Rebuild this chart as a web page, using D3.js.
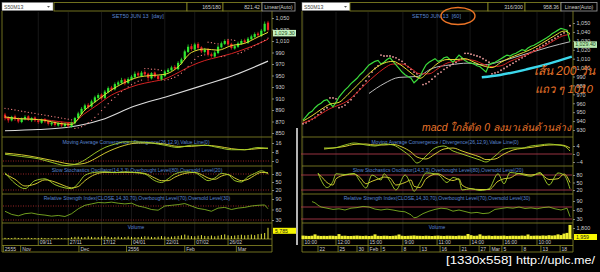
<!DOCTYPE html>
<html>
<head>
<meta charset="utf-8">
<script src="https://cdn.jsdelivr.net/npm/d3@7/dist/d3.min.js"></script>
<style>
  body { margin: 0; background: #000; }
  svg { display: block; }
  text { font-family: "Liberation Sans", Arial, sans-serif; white-space: pre; }
</style>
</head>
<body>
<svg id="chart" width="600" height="272"></svg>
<script>
// ---------- daily chart (left) ----------
var opens  = [882,877,872,879,875,869,874,879,872,877, 872,868,874,871,865,869,863,868,862,867,
              861,867,876,883,891,899,896,904,911,917, 911,921,929,926,934,937,943,937,943,947,
              954,949,956,953,945,955,949,943,949,956, 959,965,961,971,979,991,1001,995,1005,999,
              991,996,987,983,989,999,1005,1011,1005,997, 1000,1005,1011,1007,1013,1017,1023,1019,1027,1042];
var highs  = [885,879,880,882,877,877,881,881,878,879, 874,875,876,872,870,871,869,870,868,868,
              870,878,887,895,901,902,908,915,919,919, 925,931,932,938,941,946,945,947,951,957,
              957,958,959,955,956,957,951,952,960,963, 967,968,975,981,995,1004,1005,1007,1008,1001,
              998,998,990,993,1003,1009,1013,1013,1007,1004, 1009,1013,1014,1017,1021,1025,1026,1031,1044,1045];
var lows   = [872,868,870,871,867,867,872,871,869,869, 866,866,867,863,862,861,861,860,859,859,
              859,865,874,881,889,892,894,902,908,907, 909,919,922,924,931,935,933,935,941,945,
              947,947,949,940,943,946,941,941,947,954, 957,959,959,969,977,989,993,993,995,989,
              988,983,981,981,987,997,1003,1001,995,995, 998,1003,1005,1005,1011,1015,1017,1017,1025,1026];
var closes = [876,872,878,874,870,875,878,873,876,872, 869,873,870,866,868,864,867,863,866,862,
              868,876,884,892,898,895,905,912,916,910, 922,928,925,935,938,942,936,944,948,953,
              950,955,952,946,954,948,944,950,957,960, 964,962,972,978,992,1000,996,1004,998,992,
              995,986,984,990,1000,1006,1010,1004,998,1001, 1006,1010,1008,1014,1018,1022,1020,1028,1040,1029.3];
var volumes = [600,500,450,700,550,400,500,650,480,520, 450,600,500,420,380,450,520,480,400,500,
               900,1100,1200,950,1000,1300,1100,900,1000,1250, 1400,1100,900,1000,1200,950,1050,1300,1100,900,
               1000,1150,1400,1250,1100,1000,1200,1500,1300,1100, 1250,1400,1600,1900,2300,1800,1500,1400,1700,2000,
               1600,1500,1800,1400,1700,2100,2400,1900,1600,1800, 2000,2200,1900,2100,2300,2000,2500,2700,3100,5785];
var sarDay = [893,892,891,890,889,888,887,886,885,884, 883,882,881,880,879,878,877,876,875,874,
              873,858,859,861,864,868,872,877,883,889, 895,901,907,912,917,922,926,930,934,937,
              940,942,962,962,961,961,960,959,942,943, 945,947,950,954,960,966,972,978,983,985,
              986,1008,1007,1006,1005,983,984,1013,1012,1011, 988,990,993,996,999,1002,1005,1008,1011,1015];
// moving averages read every 4th bar (plus the last)
var maFastDay = [878,875,874,872,867,865,890,908,925,938,947,950,952,965,990,996,994,1002,1006,1017,1025];
var maSlowDay = [876,875,874,873,870,868,884,900,916,926,934,939,944,955,967,976,982,988,996,1005,1013];
var maLongDayIdx = [0,10,19,29,39,49,59,69,79];
var maLongDay    = [854,856,860,873,897,914,932,951,975];
var macdDayIdx = [0,5,10,15,18,21,24,27,30,33,36,40,44,48,52,56,60,64,68,72,76,79];
var macdDay    = [6,4,2,-2,-4,-3,1,7,12,15,17,17,16,14,12,14,14,12,10,10,12,11];
var signalDay  = [7,5.5,3,0,-2,-3,-2,2,7,11,14,16,16,15,13,13,14,13,11,10,11,11.5];
var stochDayIdx = [0,3,6,9,12,15,18,20,22,24,27,30,33,36,39,42,45,47,49,51,54,57,59,61,63,65,67,69,71,73,75,77,79];
var stochKDay   = [85,45,25,55,62,40,28,25,45,75,86,88,85,88,85,80,55,48,62,80,88,85,70,55,65,82,78,55,50,70,82,92,80];
var stochDDay   = [80,60,35,42,58,50,35,28,33,55,78,86,86,86,86,82,65,55,55,68,82,86,78,65,60,72,78,65,55,60,75,86,85];
var rsiDay = [55,46,42,48,50,46,44,41,43,40, 48,62,72,76,80,79,81,78,76,78,
              70,66,60,58,70,72,74,77,70,63, 60,55,64,66,60,64,66,70,72,73, 62];
var dayTopIdx = [10,19,29,38,48,57,67];
var dayTop    = ["09/11","27/11","17/12","04/01","22/01","07/02","26/02"];
var dayBotIdx = [-0.5,4.7,22.2,36.5,54,69.5];
var dayBot    = ["2555","Nov","Dec","2556","Feb","Mar"];

// ---------- 60 minute chart (right) ----------
var closesH = [941,945,949,951,955,958,960,963,964,960, 956,961,967,971,975,978,982,985,988,992,
               995,999,1003,1005,1007,1008,1004,1006,1009,1011, 1007,1003,999,995,992,990,988,983,986,990,
               997,1003,1006,1008,1010,1007,1008,1011,1012,1009, 1006,1010,1014,1011,1008,1006,1005,1004,1002,1001,
               998,995,1003,1005,1006,1008,1010,1012,1014,1013, 1015,1016,1018,1020,1019,1022,1024,1025,1027,1029,
               1031,1033,1035,1038,1040,1042,1044,1043,1042,1029.4];
var sarH = [937,938,940,942,944,947,950,953,955,966, 966,965,955,956,958,961,964,968,972,976,
            980,985,990,995,999,1002,1014,1013,1013,1013, 1012,1011,1009,1007,1004,1001,998,995,993,991,
            981,982,984,987,990,993,995,998,1000,1002, 1004,1006,1008,1010,1016,1016,1015,1014,1013,1012,
            1010,1008,1006,993,994,995,997,999,1001,1003, 1005,1007,1009,1011,1013,1015,1017,1019,1021,1023,
            1025,1027,1029,1031,1033,1035,1037,1039,1041,1047];
// moving averages read every 3rd bar (plus the last)
var maFastH = [940,946,953,959,961,970,980,990,999,1005,1007,1002,994,988,996,1005,1009,1009,1010,1006,
               1002,1000,1006,1011,1015,1019,1024,1030,1036,1041,1038];
var maSlowH = [938,942,948,954,958,963,972,982,991,999,1004,1004,999,993,993,999,1005,1007,1009,1008,
               1004,1001,1002,1007,1011,1015,1020,1025,1031,1036,1037];
var maLongHIdx = [22,27,32,38,43,49,55,60,66,71,77,82,89];
var maLongH    = [971,982,989,990,999,1003,1005,1003,1007,1012,1018,1023,1029];
var volumesH = [560,520,500,540,760,540,500,520,500,540, 530,500,800,520,540,500,500,530,560,520,
                500,540,490,530,760,520,500,540,530,490, 520,560,740,530,500,520,540,580,530,520,
                500,540,520,490,530,560,520,500,540,530, 520,500,560,530,540,820,620,520,540,760,
                530,520,560,500,540,520,530,560,500,520, 540,530,520,560,530,740,520,540,560,530,
                580,540,620,560,600,760,640,880,1000,2300];
var macdHIdx = [7,10,14,17,21,24,27,30,33,36,38,41,44,47,50,53,56,59,61,64,67,70,73,76,79,82,85,87,89];
var macdH    = [3,3,4.5,5.5,4.5,4,5,4.5,2,-1.5,-4.5,-1,3,4,1.5,0,-1.5,-3,-4,-1,2.5,3,3,4,4.5,5,4.5,4,1.5];
var signalH  = [2.5,3,3.8,4.8,5,4.5,4.5,4.8,3.5,1,-1.5,-2.5,0,2.5,3,1.5,0,-1.5,-2.8,-2.5,0,2,2.8,3.3,4,4.5,4.6,4.3,3];
var stochHIdx = [5,6,8,10,11,14,17,19,21,23,26,27,29,31,34,36,37,39,41,45,48,50,52,53,56,59,62,65,67,69,72,76,79,82,85,87,89];
var stochKH   = [88,60,30,55,85,82,86,55,28,80,60,85,55,20,80,40,15,50,88,82,50,70,60,20,25,18,25,85,45,90,85,75,90,40,88,80,25];
var stochDH   = [85,75,50,40,65,80,84,70,45,55,68,72,68,40,50,60,35,30,65,85,65,58,65,40,25,22,22,55,65,68,86,80,85,62,65,84,50];
var rsiHIdx = [3,4,5,6,8,10,12,14,16,18,20,22,24,26,28,30,32,34,36,37,38,40,42,44,46,48,50,52,54,56,58,60,62,64,66,68,70,72,74,76,78,80,82,84,86,88,89];
var rsiH    = [88,84,76,70,66,62,64,60,66,68,72,70,63,60,63,60,56,54,44,34,36,48,56,62,66,64,56,60,55,50,52,48,50,62,65,68,66,70,65,67,64,68,70,64,60,66,38];
var hourTopIdx = [0,11,21.7,33.3,44.7,55.7,66.7,78];
var hourTop    = ["10:00","12:00","15:00","9:00","11:00","14:00","16:00","10:00"];
var hourBotIdx = [5,11.7,18,21.7,26,33,39,45.7,52.3,58.7,62.3,66.3,73,79.3,85.7];
var hourBot    = ["22","25","30","Feb","5","8","13","16","21","27","Mar","5","8","13","18"];
// hand drawn annotation (200 bar line)
var cyanIdx = [59.6,65.7,74.6,82.3,89.6];
var cyanVal = [989.1,991.7,998.1,1004.8,1012.2];

var svg = d3.select("#chart");
var FRAME = "#8c8c26", LABEL = "#cdcdcd", BLUE = "#5a86d0";
var UP = "#2fe82f", DOWN = "#f02424", YEL = "#e6dc34", GRN = "#a6d62a", RED = "#d42222";

svg.append("rect").attr("width", 600).attr("height", 272).attr("fill", "#000");

function pts(idx, vals) { return idx.map(function(d, i) { return [d, vals[i]]; }); }

function drawLine(x, y, data, color, w, curve) {
  svg.append("path").datum(data)
    .attr("fill", "none").attr("stroke", color).attr("stroke-width", w)
    .attr("d", d3.line().x(function(d) { return x(d[0]); }).y(function(d) { return y(d[1]); })
      .curve(curve || d3.curveLinear));
}

function label(x, y, s, size, color, anchor) {
  return svg.append("text").attr("x", x).attr("y", y).attr("font-size", size)
    .attr("fill", color).attr("text-anchor", anchor || "start").text(s);
}

function toolbar(x0, ddw, boxes) {
  svg.append("rect").attr("x", x0 + 2).attr("y", 2.5).attr("width", ddw).attr("height", 8)
    .attr("fill", "#fff").attr("stroke", "#888").attr("stroke-width", 0.5);
  label(x0 + 4, 8.6, "S50M13", 5.2, "#444");
  svg.append("path").attr("d", "M" + (x0 + ddw - 4) + ",6 l3,0 l-1.5,1.8z").attr("fill", "#555");
  boxes.forEach(function(b) {
    svg.append("rect").attr("x", b.x).attr("y", 2.5).attr("width", b.w).attr("height", 8.5)
      .attr("fill", "#000").attr("stroke", b.button ? "#a0a0a0" : FRAME).attr("stroke-width", 0.8);
    if (b.t) label(b.button ? b.x + b.w / 2 : b.x + b.w - 2, 8.8, b.t, 5.2, LABEL, b.button ? "middle" : "end");
  });
}

function yAxis(scale, x, ticks) {
  var ax = svg.append("g").attr("transform", "translate(" + x + ",0)")
    .call(d3.axisRight(scale).tickValues(ticks).tickSize(2).tickPadding(1.5).tickFormat(d3.format(",")));
  ax.select(".domain").remove();
  ax.selectAll("line").attr("stroke", LABEL).attr("stroke-width", 0.6);
  ax.selectAll("text").attr("fill", LABEL).attr("font-size", 5.5)
    .attr("font-family", '"Liberation Sans", Arial, sans-serif');
}

function frame(x0, axisX, x, topIdx, top, botIdx, bot) {
  // vertical grid
  topIdx.concat([x.domain()[1] - 2]).forEach(function(i) {
    svg.append("line").attr("x1", x(i)).attr("x2", x(i)).attr("y1", 12).attr("y2", 239)
      .attr("stroke", "#262626").attr("stroke-width", 0.6);
  });
  var g = svg.append("g").attr("stroke", FRAME).attr("stroke-width", 0.8);
  [137, 166, 194, 223, 239, 245.5, 252].forEach(function(y) {
    g.append("line").attr("x1", x0 + 2).attr("x2", axisX).attr("y1", y).attr("y2", y);
  });
  g.append("line").attr("x1", x0 + 2).attr("x2", x0 + 2).attr("y1", 11).attr("y2", 252);
  g.append("line").attr("x1", axisX).attr("x2", axisX).attr("y1", 11).attr("y2", 252);
  // date rows
  topIdx.forEach(function(i, k) {
    g.append("line").attr("x1", x(i)).attr("x2", x(i)).attr("y1", 239).attr("y2", 245.5);
    label(x(i) + 1.5, 244.3, top[k], 5, LABEL);
  });
  botIdx.forEach(function(i, k) {
    g.append("line").attr("x1", x(i)).attr("x2", x(i)).attr("y1", 245.5).attr("y2", 252);
    label(x(i) + 1.5, 250.8, bot[k], 5, LABEL);
  });
}

function levels(x, y, vals, dotted) {
  vals.forEach(function(v) {
    svg.append("line").attr("x1", x.range()[0] - 2).attr("x2", x.range()[1] + 2)
      .attr("y1", y(v)).attr("y2", y(v))
      .attr("stroke", dotted ? "#c03030" : "#a83848").attr("stroke-width", dotted ? 0.8 : 0.9)
      .attr("stroke-dasharray", dotted ? "1,1.5" : null);
  });
}

// ================= LEFT : daily =================
toolbar(0, 51, [{x: 54, w: 133}, {x: 187, w: 36, t: "165/180"}, {x: 223, w: 39, t: "821.42"},
                {x: 262, w: 33, t: "Linear(Auto)", button: true}]);
var xL = d3.scaleLinear().domain([0, closes.length - 1]).range([5, 268]);
var yL = d3.scaleLinear().domain([850, 1050]).range([133, 18]);
var macdL = d3.scaleLinear().domain([0, 16]).range([161, 143]);
var stochL = d3.scaleLinear().domain([20, 80]).range([190, 174]);
var rsiL = d3.scaleLinear().domain([30, 90]).range([220, 199]);
var volL = d3.scaleLinear().domain([0, 6200]).range([239, 227]);

frame(0, 272, xL, dayTopIdx, dayTop, dayBotIdx, dayBot);
svg.append("rect").attr("x", 296).attr("y", 128).attr("width", 2).attr("height", 117).attr("fill", "#b4b4b4");

label(112, 18, "SET50 JUN 13  [day]", 5.5, BLUE);

var dayIdx = d3.range(closes.length);
drawLine(xL, yL, pts(maLongDayIdx, maLongDay), "#dcdcdc", 1.1, d3.curveMonotoneX);
drawLine(xL, yL, pts(d3.range(0, 80, 4).concat([79]), maSlowDay), RED, 1, d3.curveMonotoneX);
svg.append("g").selectAll("circle").data(sarDay).enter().append("circle")
  .attr("cx", function(d, i) { return xL(i); }).attr("cy", function(d) { return yL(d); })
  .attr("r", 0.65).attr("fill", "#f07c7c");
// candles
var cg = svg.append("g");
cg.selectAll("line").data(dayIdx).enter().append("line")
  .attr("x1", function(i) { return xL(i); }).attr("x2", function(i) { return xL(i); })
  .attr("y1", function(i) { return yL(highs[i]); }).attr("y2", function(i) { return yL(lows[i]); })
  .attr("stroke", function(i) { return closes[i] >= opens[i] ? UP : DOWN; }).attr("stroke-width", 0.7);
cg.selectAll("rect").data(dayIdx).enter().append("rect")
  .attr("x", function(i) { return xL(i) - 1.1; }).attr("width", 2.2)
  .attr("y", function(i) { return yL(Math.max(opens[i], closes[i])); })
  .attr("height", function(i) { return Math.max(0.8, Math.abs(yL(opens[i]) - yL(closes[i]))); })
  .attr("fill", function(i) { return closes[i] >= opens[i] ? UP : DOWN; });
drawLine(xL, yL, pts(d3.range(0, 80, 4).concat([79]), maFastDay), YEL, 1, d3.curveMonotoneX);

yAxis(yL, 272, d3.range(850, 1051, 20));
var lastY = yL(closes[closes.length - 1]);
svg.append("rect").attr("x", 273).attr("y", lastY).attr("width", 23).attr("height", 6.5).attr("fill", "#c6f2c0");
label(284.5, lastY + 5, d3.format(",.2f")(closes[closes.length - 1]), 5.3, "#1e4a1e", "middle");

// MACD
levels(xL, macdL, [0], true);
label(136, 144, "Moving Average Convergence / Divergence(26,12,9),Value Line(0)", 5, BLUE, "middle");
drawLine(xL, macdL, pts(macdDayIdx, signalDay), YEL, 0.9, d3.curveMonotoneX);
drawLine(xL, macdL, pts(macdDayIdx, macdDay), GRN, 0.9, d3.curveMonotoneX);
yAxis(macdL, 272, [0, 8, 16]);
// Stochastics
levels(xL, stochL, [80, 20], true);
label(137, 172, "Slow Stochastics Oscillator(14,3,3),Overbought Level(80),Oversold Level(20)", 5, BLUE, "middle");
drawLine(xL, stochL, pts(stochDayIdx, stochDDay), YEL, 0.9, d3.curveMonotoneX);
drawLine(xL, stochL, pts(stochDayIdx, stochKDay), GRN, 0.9, d3.curveMonotoneX);
yAxis(stochL, 272, [20, 50, 80]);
// RSI
levels(xL, rsiL, [70, 30], true);
label(137, 200, "Relative Strength Index(CLOSE,14,30,70),Overbought Level(70),Oversold Level(30)", 5, BLUE, "middle");
drawLine(xL, rsiL, pts(d3.range(0, 80, 2).concat([79]), rsiDay), "#8cc426", 0.8);
yAxis(rsiL, 272, [30, 60, 90]);
// Volume
label(136, 229, "Volume", 5, BLUE, "middle");
svg.append("g").selectAll("rect").data(volumes).enter().append("rect")
  .attr("x", function(d, i) { return xL(i) - 0.5; }).attr("width", 1)
  .attr("y", function(d) { return volL(d); }).attr("height", function(d) { return 239 - volL(d); })
  .attr("fill", "#e6e63a");
svg.append("rect").attr("x", 273).attr("y", volL(volumes[79])).attr("width", 23).attr("height", 6).attr("fill", "#f8f800");
label(275, volL(volumes[79]) + 4.8, d3.format(",")(volumes[79]), 5.2, "#222");

// ================= RIGHT : 60 minute =================
toolbar(300, 48, [{x: 350, w: 138}, {x: 488, w: 37, t: "316/300"}, {x: 525, w: 36, t: "958.36"},
                  {x: 561, w: 36, t: "Linear(Auto)", button: true}]);
var xR = d3.scaleLinear().domain([0, closesH.length - 1]).range([303, 570]);
var yR = d3.scaleLinear().domain([930, 1050]).range([130, 23]);
var macdR = d3.scaleLinear().domain([-4, 4]).range([162, 146]);
var stochR = d3.scaleLinear().domain([20, 80]).range([190, 175]);
var rsiR = d3.scaleLinear().domain([30, 90]).range([219, 201]);
var volR = d3.scaleLinear().domain([0, 1800]).range([239, 228]);

frame(300, 573, xR, hourTopIdx, hourTop, hourBotIdx, hourBot);
label(412, 18, "SET50 JUN 13  [60]", 5.5, BLUE);

var hIdx = d3.range(closesH.length);
drawLine(xR, yR, pts(maLongHIdx, maLongH), "#bdbdbd", 1, d3.curveMonotoneX);
svg.append("g").selectAll("circle").data(sarH).enter().append("circle")
  .attr("cx", function(d, i) { return xR(i); }).attr("cy", function(d) { return yR(d); })
  .attr("r", 0.9).attr("fill", "#f2a0a0");
drawLine(xR, yR, pts(d3.range(0, 90, 3).concat([89]), maSlowH), RED, 1, d3.curveMonotoneX);
drawLine(xR, yR, pts(hIdx, closesH), "#3cdc3c", 1.2);
drawLine(xR, yR, pts(d3.range(0, 90, 3).concat([89]), maFastH), YEL, 1, d3.curveMonotoneX);

yAxis(yR, 573, d3.range(930, 1051, 10));
var lastH = yR(closesH[closesH.length - 1]);
svg.append("rect").attr("x", 574).attr("y", lastH).attr("width", 23).attr("height", 6.5).attr("fill", "#b8e8b0");
label(585.5, lastH + 5, d3.format(",.2f")(closesH[closesH.length - 1]), 5.3, "#1e4a1e", "middle");

// MACD
levels(xR, macdR, [0], false);
label(445, 144, "Moving Average Convergence / Divergence(26,12,9),Value Line(0)", 5, BLUE, "middle");
drawLine(xR, macdR, pts(macdHIdx, signalH), YEL, 0.9, d3.curveMonotoneX);
drawLine(xR, macdR, pts(macdHIdx, macdH), GRN, 0.9, d3.curveMonotoneX);
yAxis(macdR, 573, [-4, 0, 4]);
// Stochastics
levels(xR, stochR, [80, 20], false);
label(438, 172, "Slow Stochastics Oscillator(14,3,3),Overbought Level(80),Oversold Level(20)", 5, BLUE, "middle");
drawLine(xR, stochR, pts(stochHIdx, stochDH), YEL, 0.9, d3.curveMonotoneX);
drawLine(xR, stochR, pts(stochHIdx, stochKH), GRN, 0.9, d3.curveMonotoneX);
yAxis(stochR, 573, [20, 50, 80]);
// RSI
levels(xR, rsiR, [70, 30], false);
label(437, 200, "Relative Strength Index(CLOSE,14,30,70),Overbought Level(70),Oversold Level(30)", 5, BLUE, "middle");
drawLine(xR, rsiR, pts(rsiHIdx, rsiH), "#8cc426", 0.8);
yAxis(rsiR, 573, [30, 60, 90]);
// Volume
label(437, 229, "Volume", 5, BLUE, "middle");
svg.append("g").selectAll("rect").data(volumesH).enter().append("rect")
  .attr("x", function(d, i) { return xR(i) - 1.5; }).attr("width", 3)
  .attr("y", function(d) { return volR(d); }).attr("height", function(d) { return 239 - volR(d); })
  .attr("fill", "#f0f030");
yAxis(volR, 573, [1800]);
svg.append("rect").attr("x", 574).attr("y", 234).attr("width", 23).attr("height", 6).attr("fill", "#f8f800");
label(576, 238.8, "1,959", 5.2, "#222");

// ---------- hand-drawn annotations ----------
drawLine(xR, yR, pts(cyanIdx, cyanVal), "#3cd8ec", 2.4, d3.curveMonotoneX);
svg.append("ellipse").attr("cx", 458).attr("cy", 16).attr("rx", 17).attr("ry", 8.5)
  .attr("fill", "none").attr("stroke", "#ec7426").attr("stroke-width", 1.4);
var thai = '"Noto Sans Thai", "Noto Sans", "DejaVu Sans", sans-serif';
label(534, 75, "เส้น 200 วัน", 12, "#e8742a").attr("font-family", thai).attr("font-style", "italic");
label(535, 93, "แถว ๆ 1010", 11.5, "#e8742a").attr("font-family", thai).attr("font-style", "italic");
label(422, 131, "macd ใกล้ตัด 0 ลงมาเล่นด้านล่าง", 10.4, "#e8742a").attr("font-family", thai).attr("font-style", "italic");

var mono = '"DejaVu Sans Mono", "Liberation Mono", monospace';
label(446, 264, "[1330x558]", 11, "#ffffff").attr("font-family", mono)
  .attr("textLength", 66).attr("lengthAdjust", "spacingAndGlyphs");
label(516, 264, "http://uplc.me/", 11, "#ffffff").attr("font-family", mono)
  .attr("textLength", 79).attr("lengthAdjust", "spacingAndGlyphs");
</script>
</body>
</html>
